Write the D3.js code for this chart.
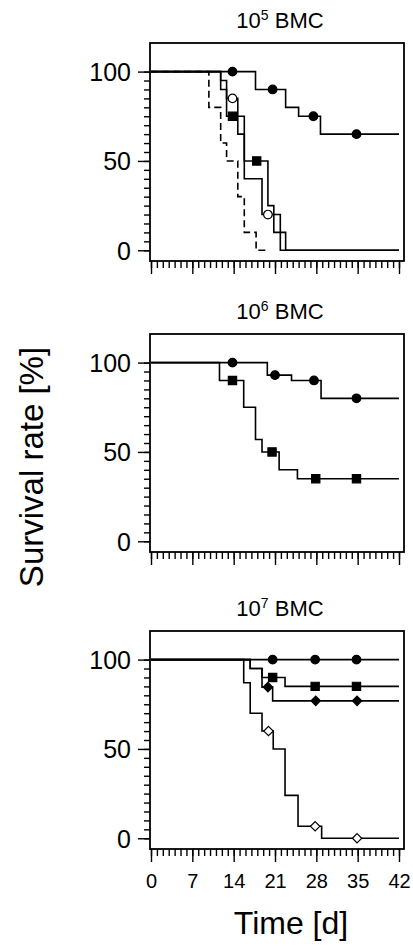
<!DOCTYPE html>
<html>
<head>
<meta charset="utf-8">
<script src="https://cdnjs.cloudflare.com/ajax/libs/d3/7.8.5/d3.min.js"></script>
<style>
body { margin: 0; background: #fff; }
text { font-family: "Liberation Sans", Arial, Helvetica, sans-serif; fill: #000; }
</style>
</head>
<body>
<div class="chart"></div>
<script>
// panel titles: 10^n BMC
var doseExponents = ["5", "6", "7"];
var xTicks = [0, 7, 14, 21, 28, 35, 42];
var yTicks = [0, 50, 100];

// 10^5 BMC
var p1FilledCircleDays = [0, 17.7, 22.8, 25.0, 28.7, 42];
var p1FilledCircleSurv = [100, 90, 80, 75, 65, 65];
var p1FilledCircleMarks = [13.8, 20.6, 27.5, 34.8];
var p1SquareDays = [0, 11.8, 12.8, 15.8, 19.8, 20.8, 22.8, 42];
var p1SquareSurv = [100, 95, 75, 50, 25, 10, 0, 0];
var p1SquareMarks = [13.8, 17.9];
var p1OpenCircleDays = [0, 11.8, 12.8, 14.7, 15.8, 18.8, 21.9, 42];
var p1OpenCircleSurv = [100, 90, 85, 65, 40, 20, 0, 0];
var p1OpenCircleMarks = [13.8, 19.8];
var p1DashedDays = [0, 9.8, 11.8, 12.8, 14.7, 15.8, 17.8, 20];
var p1DashedSurv = [100, 80, 60, 50, 30, 10, 0, 0];

// 10^6 BMC
var p2FilledCircleDays = [0, 19.7, 23.8, 28.8, 42];
var p2FilledCircleSurv = [100, 93, 90, 80, 80];
var p2FilledCircleMarks = [13.8, 21.0, 27.6, 34.8];
var p2SquareDays = [0, 11.6, 15.7, 17.7, 18.8, 21.7, 24.8, 42];
var p2SquareSurv = [100, 90, 75, 57, 50, 40, 35, 35];
var p2SquareMarks = [13.8, 20.5, 27.9, 34.8];

// 10^7 BMC
var p3FilledCircleDays = [0, 42];
var p3FilledCircleSurv = [100, 100];
var p3FilledCircleMarks = [20.6, 27.8, 34.8];
var p3SquareDays = [0, 16.8, 18.8, 22.7, 42];
var p3SquareSurv = [100, 95, 90, 85, 85];
var p3SquareMarks = [20.6, 27.8, 34.8];
var p3DiamondDays = [0, 16.8, 18.8, 20.6, 42];
var p3DiamondSurv = [100, 95, 84.6, 76.9, 76.9];
var p3DiamondMarks = [19.8, 27.9, 34.9];
var p3OpenDiamondDays = [0, 15.7, 16.8, 18.8, 20.7, 22.7, 24.9, 28.9, 42];
var p3OpenDiamondSurv = [100, 87, 70, 60, 50, 24, 6.7, 0, 0];
var p3OpenDiamondMarks = [19.9, 27.8, 34.9];

var width = 413;
var height = 947;
var frameLeft = 150;
var frameRight = 404;
var panelTops = [43, 334, 631];
var panelH = 218;
var x = d3.scaleLinear().domain([0, 42]).range([151, 399]);

var diamondType = {
    draw: function(ctx, size) {
        var r = Math.sqrt(size / 2);
        ctx.moveTo(0, -r);
        ctx.lineTo(r, 0);
        ctx.lineTo(0, r);
        ctx.lineTo(-r, 0);
        ctx.closePath();
    }
};

var markerStyles = {
    circle: { type: d3.symbolCircle, size: 58, fill: "#000" },
    openCircle: { type: d3.symbolCircle, size: 58, fill: "#fff" },
    square: { type: d3.symbolSquare, size: 68, fill: "#000" },
    diamond: { type: diamondType, size: 44, fill: "#000" },
    openDiamond: { type: diamondType, size: 44, fill: "#fff" }
};

var panels = [
    [
        { days: p1DashedDays, surv: p1DashedSurv, marks: [], marker: null, dashed: true },
        { days: p1FilledCircleDays, surv: p1FilledCircleSurv, marks: p1FilledCircleMarks, marker: "circle" },
        { days: p1OpenCircleDays, surv: p1OpenCircleSurv, marks: p1OpenCircleMarks, marker: "openCircle" },
        { days: p1SquareDays, surv: p1SquareSurv, marks: p1SquareMarks, marker: "square" }
    ],
    [
        { days: p2FilledCircleDays, surv: p2FilledCircleSurv, marks: p2FilledCircleMarks, marker: "circle" },
        { days: p2SquareDays, surv: p2SquareSurv, marks: p2SquareMarks, marker: "square" }
    ],
    [
        { days: p3OpenDiamondDays, surv: p3OpenDiamondSurv, marks: p3OpenDiamondMarks, marker: "openDiamond" },
        { days: p3DiamondDays, surv: p3DiamondSurv, marks: p3DiamondMarks, marker: "diamond" },
        { days: p3SquareDays, surv: p3SquareSurv, marks: p3SquareMarks, marker: "square" },
        { days: p3FilledCircleDays, surv: p3FilledCircleSurv, marks: p3FilledCircleMarks, marker: "circle" }
    ]
];

function stepValue(days, surv, t) {
    var v = surv[0];
    for (var i = 0; i < days.length; i++) {
        if (days[i] <= t) v = surv[i];
    }
    return v;
}

function build_axes(g, y, top, showLabels) {
    // y ticks
    var ya = g.append("g").attr("transform", "translate(" + frameLeft + ",0)");
    ya.call(d3.axisLeft(y).tickValues(d3.range(0, 101, 5)).tickSize(6).tickFormat(""));
    var yb = g.append("g").attr("transform", "translate(" + frameLeft + ",0)");
    yb.call(d3.axisLeft(y).tickValues(yTicks).tickSize(12).tickPadding(7));
    yb.selectAll("text").attr("font-size", 25).attr("dy", "0.36em")
        .style("font-family", "'Liberation Sans', Arial, sans-serif");

    // x ticks
    var bottom = top + panelH;
    var xa = g.append("g").attr("transform", "translate(0," + bottom + ")");
    xa.call(d3.axisBottom(x).tickValues(d3.range(0, 43, 1)).tickSize(7).tickFormat(""));
    var xb = g.append("g").attr("transform", "translate(0," + bottom + ")");
    xb.call(d3.axisBottom(x).tickValues(xTicks).tickSize(13).tickPadding(12)
        .tickFormat(showLabels ? d3.format("d") : ""));
    xb.selectAll("text").attr("font-size", 20)
        .style("font-family", "'Liberation Sans', Arial, sans-serif");

    g.selectAll(".domain").remove();
    g.selectAll(".tick line").attr("stroke", "#000").attr("stroke-width", 1.4);
}

function build_panel(svg, series, top, exponent, showLabels) {
    var g = svg.append("g");
    var y = d3.scaleLinear().domain([-6, 116]).range([top + panelH, top]);

    build_axes(g, y, top, showLabels);

    var line = d3.line()
        .x(function(d) { return x(d[0]); })
        .y(function(d) { return y(d[1]); })
        .curve(d3.curveStepAfter);

    series.forEach(function(s) {
        var pts = s.days.map(function(d, i) { return [d, s.surv[i]]; });
        g.append("path")
            .attr("d", line(pts))
            .attr("fill", "none")
            .attr("stroke", "#000")
            .attr("stroke-width", 1.6)
            .attr("stroke-dasharray", s.dashed ? "7,4" : null);
    });

    series.forEach(function(s) {
        if (!s.marker) return;
        var st = markerStyles[s.marker];
        var sym = d3.symbol().type(st.type).size(st.size);
        g.selectAll(null)
            .data(s.marks)
            .enter().append("path")
            .attr("d", sym)
            .attr("transform", function(d) {
                return "translate(" + x(d) + "," + y(stepValue(s.days, s.surv, d)) + ")";
            })
            .attr("fill", st.fill)
            .attr("stroke", "#000")
            .attr("stroke-width", 1.2);
    });

    // frame
    g.append("rect")
        .attr("x", frameLeft)
        .attr("y", top)
        .attr("width", frameRight - frameLeft)
        .attr("height", panelH)
        .attr("fill", "none")
        .attr("stroke", "#000")
        .attr("stroke-width", 1.8);

    // title
    var t = g.append("text")
        .attr("x", 280)
        .attr("y", top - 15)
        .attr("text-anchor", "middle")
        .attr("font-size", 22);
    t.append("tspan").text("10");
    t.append("tspan").attr("dy", -8).attr("font-size", 14).text(exponent);
    t.append("tspan").attr("dy", 8).text(" BMC");
}

function main() {
    var svg = d3.select(".chart").append("svg")
        .attr("width", width)
        .attr("height", height);

    panels.forEach(function(series, i) {
        build_panel(svg, series, panelTops[i], doseExponents[i], i === 2);
    });

    svg.append("text")
        .attr("transform", "translate(43,467) rotate(-90)")
        .attr("text-anchor", "middle")
        .attr("font-size", 33)
        .text("Survival rate [%]");

    svg.append("text")
        .attr("x", 291)
        .attr("y", 934)
        .attr("text-anchor", "middle")
        .attr("font-size", 32)
        .text("Time [d]");
}

main();
</script>
</body>
</html>
